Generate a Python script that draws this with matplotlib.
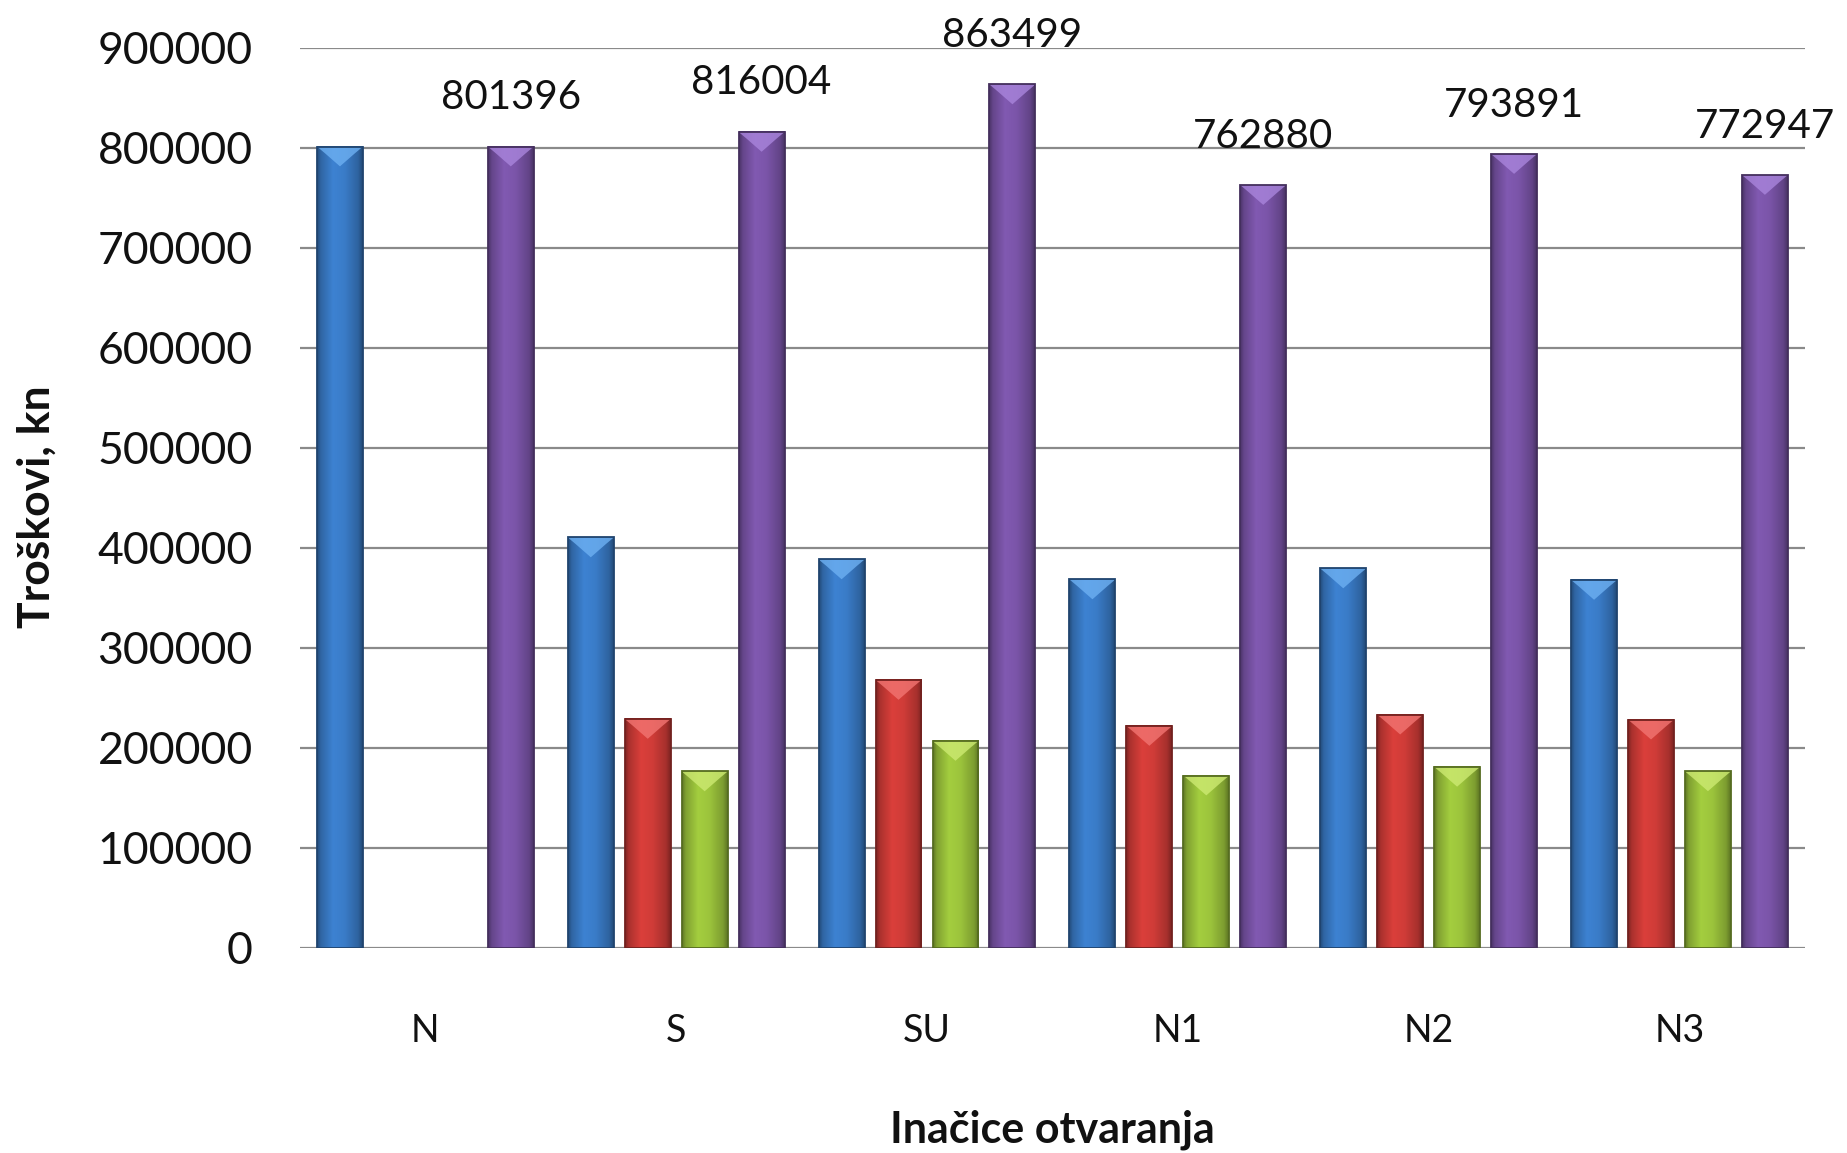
import matplotlib.pyplot as plt
import numpy as np
from matplotlib.colors import to_rgb
from matplotlib.patches import Polygon

plt.rcParams["font.family"] = ["Lato", "DejaVu Sans"]

# cost per opening variant (kn)
categories = ["N", "S", "SU", "N1", "N2", "N3"]
blue_vals = [801396, 410500, 388500, 368500, 379500, 368000]
red_vals = [0, 229000, 268000, 222000, 233300, 228300]
green_vals = [0, 176500, 207000, 172400, 181100, 176600]
total_vals = [801396, 816004, 863499, 762880, 793891, 772947]

series = [
    (blue_vals, "#3a7cc8", "#6db0f2"),
    (red_vals, "#d03c38", "#f27572"),
    (green_vals, "#9cc43c", "#cdea72"),
    (total_vals, "#7b55a9", "#a985dc"),
]

slot = 0.227
bar_w = 0.183
ymax = 900000

fig = plt.figure(figsize=(18.47, 11.53), dpi=100)
ax = fig.add_axes([0.1624, 0.1778, 0.8148, 0.7806])

x = np.arange(len(categories))
# horizontal shading profile for the bevelled bar look
prof_t = np.linspace(0, 1, 64)
prof = np.interp(prof_t, [0, 0.08, 0.35, 0.6, 0.9, 1.0],
                 [0.62, 0.82, 1.05, 1.0, 0.8, 0.6])


def bevel_bar(ax, bx, h, base, light):
    if h <= 0:
        return
    rgb = np.array(to_rgb(base))
    img = np.clip(prof[None, :, None] * rgb[None, None, :], 0, 1)
    ax.imshow(img, extent=(bx - bar_w / 2, bx + bar_w / 2, 0, h),
              aspect="auto", zorder=2, interpolation="bilinear")
    dark = rgb * 0.55
    ax.add_patch(plt.Rectangle((bx - bar_w / 2, 0), bar_w, h, fill=False,
                               edgecolor=dark, lw=1.3, zorder=4))
    depth = 0.022 * ymax
    tri = Polygon([(bx - bar_w / 2, h), (bx + bar_w / 2, h),
                   (bx + bar_w * 0.32, h - depth * 0.35),
                   (bx, h - depth), (bx - bar_w * 0.32, h - depth * 0.35)],
                  closed=True, facecolor=light, edgecolor="none",
                  alpha=0.8, zorder=3)
    ax.add_patch(tri)


for i, (vals, base, light) in enumerate(series):
    offs = (i - 1.5) * slot
    for xi, v in zip(x, vals):
        bevel_bar(ax, xi + offs, v, base, light)

# value labels above the total bars
for xi, v in zip(x, total_vals):
    ax.annotate(str(v), xy=(xi + 1.5 * slot, v), xytext=(0, 27),
                textcoords="offset points", ha="center", va="baseline",
                fontsize=29, color="#111111", annotation_clip=False)

ax.set_xlim(-0.5, len(categories) - 0.5)
ax.set_ylim(0, ymax)
ax.set_yticks(np.arange(0, ymax + 1, 100000))
ax.set_yticklabels([str(t) for t in range(0, ymax + 1, 100000)],
                   fontsize=32, color="#111111")
ax.set_xticks(x)
ax.set_xticklabels(categories, fontsize=27, color="#111111")
ax.tick_params(axis="y", length=0, pad=34)
ax.tick_params(axis="x", length=0, pad=47)

for s in ax.spines.values():
    s.set_visible(False)
ax.set_axisbelow(True)
ax.yaxis.grid(True, color="#8a8a8a", lw=1.6)

fig.text(1052 / 1847, 1 - 1130 / 1153, "Inačice otvaranja",
         ha="center", va="center", fontsize=31, fontweight="bold",
         color="#111111")
fig.text(37 / 1847, 1 - 507 / 1153, "Troškovi, kn", rotation=90,
         ha="center", va="center", fontsize=32, fontweight="bold",
         color="#111111")

fig.savefig("out.png", dpi=100, facecolor="white")
